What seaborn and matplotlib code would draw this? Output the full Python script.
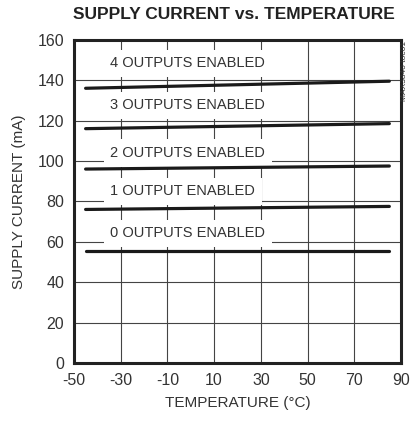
import matplotlib
matplotlib.use('Agg')
import matplotlib.pyplot as plt
import pandas as pd
import seaborn as sns

temps = [-45, 85]
outputs_0 = [55.5, 55.5]
outputs_1 = [76.0, 77.5]
outputs_2 = [96.0, 97.5]
outputs_3 = [116.0, 118.5]
outputs_4 = [136.0, 139.5]
series_names = ['0 OUTPUTS ENABLED', '1 OUTPUT ENABLED', '2 OUTPUTS ENABLED',
                '3 OUTPUTS ENABLED', '4 OUTPUTS ENABLED']
label_y = [62.3, 83.0, 102.0, 125.6, 146.3]
label_x = -34.5
x_ticks = [-50, -30, -10, 10, 30, 50, 70, 90]
y_ticks = [0, 20, 40, 60, 80, 100, 120, 140, 160]

rows = []
for name, vals in zip(series_names, [outputs_0, outputs_1, outputs_2, outputs_3, outputs_4]):
    for t, v in zip(temps, vals):
        rows.append({'temp': t, 'current': v, 'series': name})
df = pd.DataFrame(rows)

sns.set_style('white')
plt.rcParams['font.family'] = ['Liberation Sans', 'DejaVu Sans']
plt.rcParams['axes.unicode_minus'] = False

fig = plt.figure(figsize=(4.13, 4.28), dpi=100)
ax = fig.add_axes([0.179, 0.152, 0.792, 0.755])

sns.lineplot(data=df, x='temp', y='current', units='series', estimator=None,
             color='#1a1a1a', lw=2.3, ax=ax, zorder=4, legend=False)

ax.set_xlim(-50, 90)
ax.set_ylim(0, 160)
ax.set_xticks(x_ticks)
ax.set_yticks(y_ticks)
ax.grid(True, color='#444444', lw=0.8)
ax.set_axisbelow(True)
ax.tick_params(length=0, labelsize=11.5, labelcolor='#333333', pad=7)
for sp in ax.spines.values():
    sp.set_linewidth(2.2)
    sp.set_color('#222222')

for name, y in zip(series_names, label_y):
    ax.text(label_x, y, name, fontsize=10.5, color='#333333', va='baseline', ha='left', zorder=3,
            bbox=dict(boxstyle='square,pad=0.45', fc='white', ec='none'))

ax.set_xlabel('TEMPERATURE (°C)', fontsize=11, color='#333333', labelpad=6)
ax.set_ylabel('SUPPLY CURRENT (mA)', fontsize=11, color='#333333', labelpad=8)
fig.text(0.567, 0.965, 'SUPPLY CURRENT vs. TEMPERATURE', ha='center', va='center',
         fontsize=12.5, fontweight='bold', color='#222222')
fig.text(0.979, 0.905, 'MAX3840 toc01', rotation=90, ha='center', va='top',
         fontsize=6, color='#333333')

fig.savefig('out.png', dpi=100)
